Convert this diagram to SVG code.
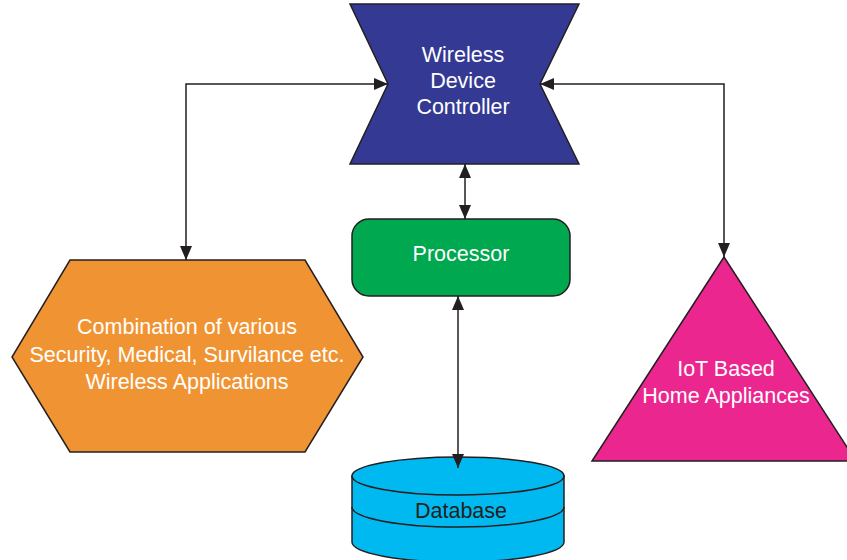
<svg xmlns="http://www.w3.org/2000/svg" width="847" height="560" viewBox="0 0 847 560">
<style>
.shape{stroke:#231f20;stroke-width:1.5;stroke-linejoin:miter}
.lbl{font-family:"Liberation Sans",Arial,sans-serif;font-size:21.5px;fill:#ffffff;text-anchor:middle}
.dark{fill:#231f20}
.conn{fill:none;stroke:#231f20;stroke-width:1.5}
</style>
<defs>
<marker id="ah" viewBox="0 0 14 12" refX="14" refY="6" markerWidth="14" markerHeight="12" markerUnits="userSpaceOnUse" orient="auto-start-reverse">
<path d="M0,0 L14,6 L0,12 Z" fill="#231f20"/>
</marker>
</defs>
<rect width="847" height="560" fill="#ffffff"/>
<g id="controller">
<polygon class="shape" fill="#343a94" points="350,4 579,4 540,84 579,164 350,164 388,84"/>
<text class="lbl" x="463" y="62">Wireless</text>
<text class="lbl" x="463" y="88">Device</text>
<text class="lbl" x="463" y="114">Controller</text>
</g>
<g id="processor">
<rect class="shape" fill="#00a84f" x="352" y="219" width="218" height="77" rx="17" ry="17"/>
<text class="lbl" x="461" y="261">Processor</text>
</g>
<g id="applications">
<polygon class="shape" fill="#f09433" points="70,260 305,260 363,357 305,452 70,452 12,357"/>
<text class="lbl" x="187" y="334">Combination of various</text>
<text class="lbl" x="187" y="362">Security, Medical, Survilance etc.</text>
<text class="lbl" x="187" y="389">Wireless Applications</text>
</g>
<g id="appliances">
<polygon class="shape" fill="#ec268f" points="724,257 856,461 592,461"/>
<text class="lbl" x="726" y="376">IoT Based</text>
<text class="lbl" x="726" y="403">Home Appliances</text>
</g>
<g id="database">
<path class="shape" fill="#00b9f0" d="M352,476 V542 A106,20 0 0 0 564,542 V476 Z"/>
<path class="shape" fill="none" d="M352,507 A106,20 0 0 0 564,507"/>
<ellipse class="shape" fill="#00b9f0" cx="458" cy="476" rx="106" ry="19"/>
<text class="lbl dark" x="461" y="518">Database</text>
</g>
<g id="connectors">
<path class="conn" d="M388,84 H186 V260" marker-start="url(#ah)" marker-end="url(#ah)"/>
<path class="conn" d="M540,84 H724 V257" marker-start="url(#ah)" marker-end="url(#ah)"/>
<path class="conn" d="M465,164 V219" marker-start="url(#ah)" marker-end="url(#ah)"/>
<path class="conn" d="M458,296 V468" marker-start="url(#ah)" marker-end="url(#ah)"/>
</g>
</svg>
